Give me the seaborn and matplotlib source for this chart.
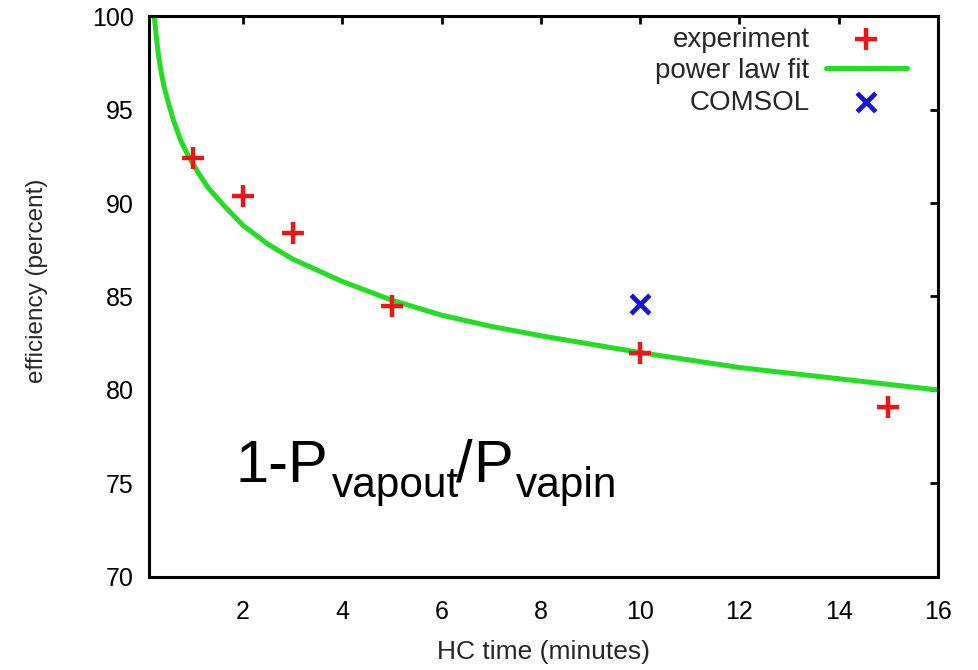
import matplotlib
matplotlib.use("Agg")
import matplotlib.pyplot as plt
import seaborn as sns
import pandas as pd

# experiment data
exp_x = [1, 2, 3, 5, 10, 15]
exp_y = [92.4, 90.4, 88.4, 84.5, 82.0, 79.1]

# COMSOL
comsol_x = [10]
comsol_y = [84.6]

# power law fit curve
fit_x = [0.21, 0.25, 0.3, 0.35, 0.4, 0.5, 0.6, 0.75, 0.9, 1.1, 1.3, 1.6, 2.0, 2.5,
         3.0, 4.0, 5.0, 6.0, 7.0, 8.0, 10.0, 12.0, 14.0, 16.0]
fit_y = [100.0, 98.9, 97.8, 97.0, 96.3, 95.3, 94.4, 93.3, 92.5, 91.6, 90.8, 89.9, 88.8, 87.8,
         87.0, 85.8, 84.8, 84.0, 83.4, 82.9, 82.0, 81.2, 80.6, 80.0]

x_ticks = [2, 4, 6, 8, 10, 12, 14, 16]
y_ticks = [70, 75, 80, 85, 90, 95, 100]

sns.set_theme(style="white")
plt.rcParams['font.family'] = ['Liberation Sans', 'DejaVu Sans']

fig = plt.figure(figsize=(9.79, 6.7), dpi=100)
ax = fig.add_axes([0.152, 0.139, 0.806, 0.837])

df_exp = pd.DataFrame({"x": exp_x, "y": exp_y})
df_fit = pd.DataFrame({"x": fit_x, "y": fit_y})
df_com = pd.DataFrame({"x": comsol_x, "y": comsol_y})

sns.lineplot(data=df_fit, x="x", y="y", ax=ax, color="#22dd22", linewidth=3.6,
             label="power law fit", zorder=2)
sns.scatterplot(data=df_exp, x="x", y="y", ax=ax, marker="+", s=270, color="#e81818",
                linewidth=3.2, label="experiment", zorder=3)
sns.scatterplot(data=df_com, x="x", y="y", ax=ax, marker="x", s=180, color="#1414dc",
                linewidth=3.4, label="COMSOL", zorder=3)

ax.set_xlim(0.1, 16)
ax.set_ylim(70, 100)
ax.set_xticks(x_ticks)
ax.set_yticks(y_ticks)
ax.tick_params(axis='both', which='both', direction='in', length=6, width=2.0,
               top=True, right=True, labelsize=18, colors='black')
ax.tick_params(axis='x', pad=17)
ax.tick_params(axis='y', pad=11)
for s in ax.spines.values():
    s.set_color('black')
    s.set_linewidth(2.2)

ax.set_xlabel("HC time (minutes)", fontsize=19, labelpad=11)
ax.set_ylabel("efficiency (percent)", fontsize=17.5)
ax.yaxis.set_label_coords(-0.128, 0.528)

handles, labels = ax.get_legend_handles_labels()
order = [labels.index("experiment"), labels.index("power law fit"), labels.index("COMSOL")]
ax.legend([handles[i] for i in order], [labels[i] for i in order],
          loc="upper right", bbox_to_anchor=(0.978, 1.006), frameon=False,
          markerfirst=False, fontsize=20, handlelength=2.9, handletextpad=0.6,
          labelspacing=0.2, borderpad=0.0)

# annotation 1-P_vapout/P_vapin built from pieces
fig.canvas.draw()
renderer = fig.canvas.get_renderer()
base = ax.transData.transform((1.85, 75.1))
inv = fig.transFigure.inverted()

def put(text, xpix, ypix, size):
    fx, fy = inv.transform((xpix, ypix))
    t = fig.text(fx, fy, text, fontsize=size, va="baseline", ha="left", color="black")
    return t.get_window_extent(renderer).x1

x = base[0]
x = put("1-P", x, base[1], 43) + 3
x = put("vapout", x, base[1] - 15, 30.5) - 3
x = put("/", x, base[1], 43) + 1
x = put("P", x, base[1], 43) + 3
put("vapin", x, base[1] - 15, 30.5)

fig.savefig("out.png", dpi=100)
